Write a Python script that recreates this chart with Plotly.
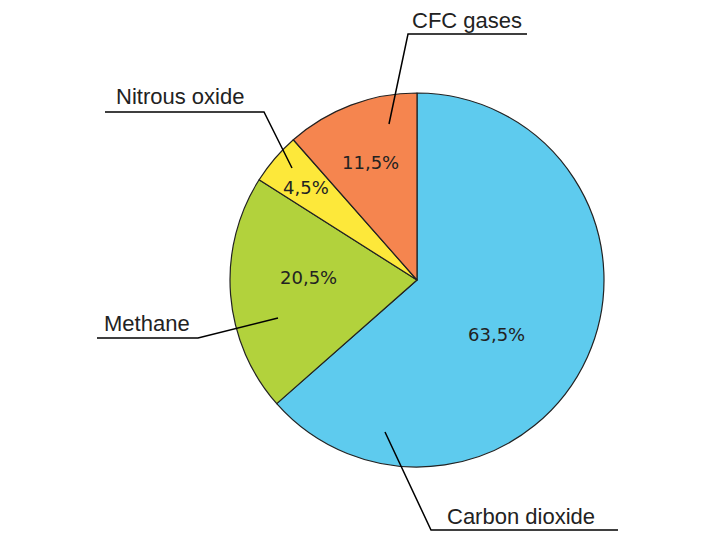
import plotly.graph_objects as go

labels = ["Carbon dioxide", "Methane", "Nitrous oxide", "CFC gases"]
values = [63.5, 20.5, 4.5, 11.5]
colors = ["#5ECBEE", "#B2D23C", "#FDE83A", "#F5854F"]

W, H = 720, 540
OFF = 8  # page body margin offset

def px(x, y):
    return (x - OFF) / W, 1 - (y - OFF) / H

# pie geometry (pixels in the screenshot)
cx, cy, r = 417, 280, 187
x0, y1 = px(cx - r, cy - r)
x1, y0 = px(cx + r, cy + r)

fig = go.Figure(go.Pie(
    labels=labels, values=values, sort=False, direction="clockwise", rotation=0,
    marker=dict(colors=colors, line=dict(color="#222222", width=1.2)),
    textinfo="none", hoverinfo="label+percent", showlegend=False,
    domain=dict(x=[x0, x1], y=[y0, y1]),
))

LABEL_FONT = dict(family="Liberation Sans", size=22, color="#222222")
PCT_FONT = dict(family="DejaVu Sans", size=18, color="#222222")

# percentage labels inside slices
pct_pos = [(496, 334), (308, 277), (306, 188), (370, 163)]
for v, (x, y) in zip(values, pct_pos):
    xx, yy = px(x, y)
    fig.add_annotation(x=xx, y=yy, xref="paper", yref="paper", showarrow=False,
                       xanchor="center", yanchor="middle",
                       text=f"{v:.1f}".replace(".", ",") + "%", font=PCT_FONT)

# callout labels with leader lines
label_pos = [(521, 517), (147, 323), (180, 97), (467, 21)]
leaders = [
    [(618, 530), (431, 530), (385, 432)],
    [(97, 338), (198, 338), (278, 318)],
    [(105, 112), (264, 112), (292, 168)],
    [(527, 34), (408, 34), (389, 124)],
]
for lab, (x, y), pts in zip(labels, label_pos, leaders):
    xx, yy = px(x, y)
    fig.add_annotation(x=xx, y=yy, xref="paper", yref="paper", showarrow=False,
                       xanchor="center", yanchor="middle",
                       text=lab, font=LABEL_FONT)
    path = "M " + " L ".join(f"{px(a, b)[0]:.5f},{px(a, b)[1]:.5f}" for a, b in pts)
    fig.add_shape(type="path", path=path, xref="paper", yref="paper",
                  line=dict(color="#000000", width=1.5))

fig.update_layout(width=W, height=H, margin=dict(l=0, r=0, t=0, b=0),
                  paper_bgcolor="white", plot_bgcolor="white")
fig.write_html("out.html")
